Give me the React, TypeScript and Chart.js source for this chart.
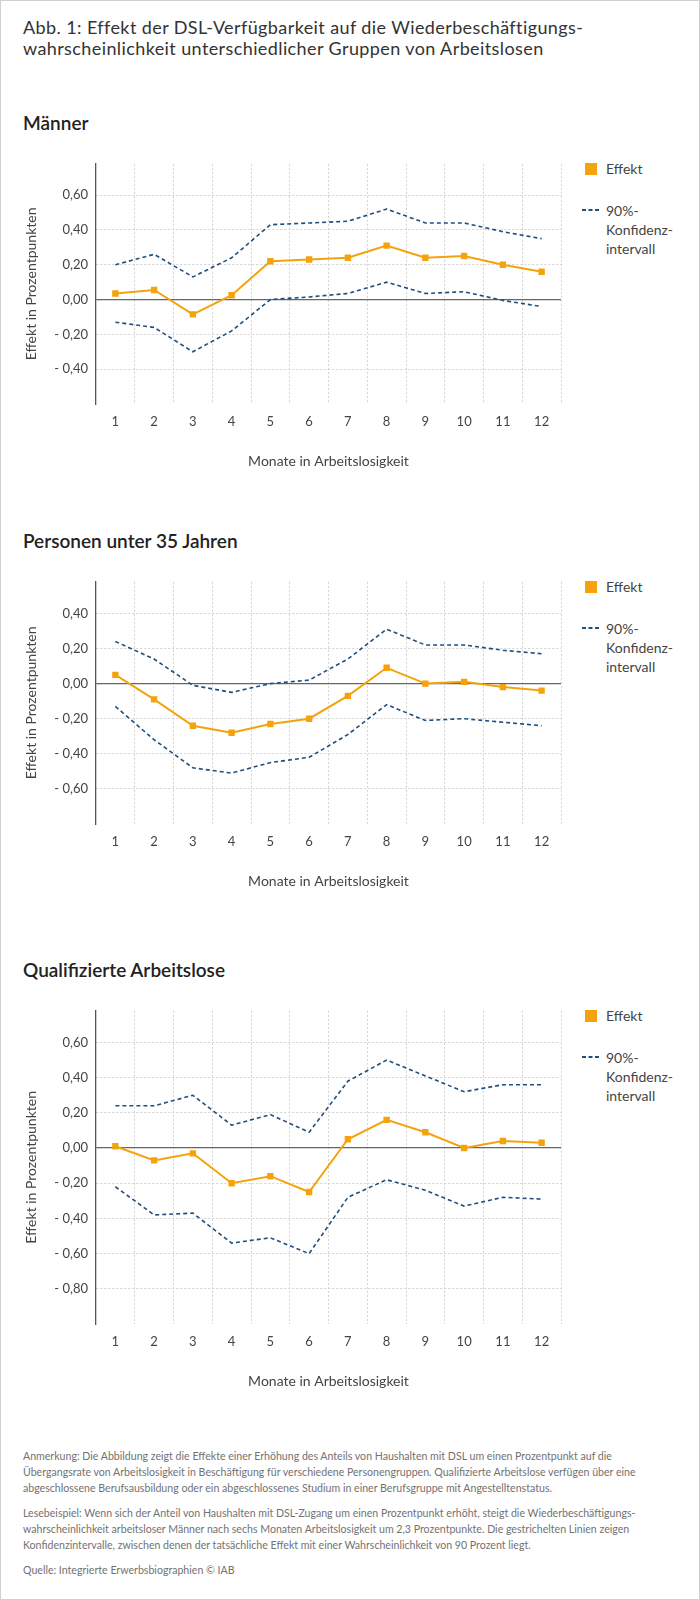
import { useEffect, useRef } from 'react';
import { Chart, registerables } from 'chart.js';

Chart.register(...registerables);

// Monate in Arbeitslosigkeit
const MONTHS = ['1', '2', '3', '4', '5', '6', '7', '8', '9', '10', '11', '12'];

// Männer
const MEN_EFFECT = [0.035, 0.055, -0.085, 0.025, 0.22, 0.23, 0.24, 0.31, 0.24, 0.25, 0.2, 0.16];
const MEN_UPPER = [0.2, 0.26, 0.13, 0.24, 0.43, 0.44, 0.45, 0.52, 0.44, 0.44, 0.39, 0.35];
const MEN_LOWER = [-0.13, -0.16, -0.3, -0.18, 0.0, 0.015, 0.035, 0.1, 0.035, 0.045, -0.005, -0.04];
const MEN_TICKS = [-0.4, -0.2, 0, 0.2, 0.4, 0.6];

// Personen unter 35 Jahren
const YOUNG_EFFECT = [0.05, -0.09, -0.24, -0.28, -0.23, -0.2, -0.07, 0.09, 0.0, 0.01, -0.02, -0.04];
const YOUNG_UPPER = [0.24, 0.14, -0.01, -0.05, 0.0, 0.02, 0.14, 0.31, 0.22, 0.22, 0.19, 0.17];
const YOUNG_LOWER = [-0.13, -0.32, -0.48, -0.51, -0.45, -0.42, -0.29, -0.12, -0.21, -0.2, -0.22, -0.24];
const YOUNG_TICKS = [-0.6, -0.4, -0.2, 0, 0.2, 0.4];

// Qualifizierte Arbeitslose
const QUAL_EFFECT = [0.01, -0.07, -0.03, -0.2, -0.16, -0.25, 0.05, 0.16, 0.09, 0.0, 0.04, 0.03];
const QUAL_UPPER = [0.24, 0.24, 0.3, 0.13, 0.19, 0.09, 0.38, 0.5, 0.41, 0.32, 0.36, 0.36];
const QUAL_LOWER = [-0.22, -0.38, -0.37, -0.54, -0.51, -0.6, -0.28, -0.18, -0.24, -0.33, -0.28, -0.29];
const QUAL_TICKS = [-0.8, -0.6, -0.4, -0.2, 0, 0.2, 0.4, 0.6];

const ORANGE = '#f4a30d';
const BLUE = '#1f4f7e';
const FONT = 'Lato, "Open Sans", sans-serif';
const TEXT = '#444';

const CANVAS_W = 580;
const PLOT_RIGHT = 560;
const AXIS_LEFT = 95;
const PAD_TOP = 15;
const X_AREA = 70;

const fmt = (v: number) => {
  const s = Math.abs(v).toFixed(2).replace('.', ',');
  return v < -0.0001 ? '- ' + s : s;
};

interface PanelProps {
  heading: string;
  plotTop: number;
  plotBottom: number;
  min: number;
  max: number;
  ticks: number[];
  effect: number[];
  upper: number[];
  lower: number[];
}

function Panel({ heading, plotTop, plotBottom, min, max, ticks, effect, upper, lower }: PanelProps) {
  const canvasRef = useRef<HTMLCanvasElement>(null);
  const canvasH = plotBottom - plotTop + PAD_TOP + X_AREA;

  useEffect(() => {
    const ctx = canvasRef.current?.getContext('2d');
    if (!ctx) return;

    const dashed = (label: string, data: number[]) => ({
      label,
      data,
      borderColor: BLUE,
      backgroundColor: BLUE,
      borderWidth: 1.6,
      borderDash: [4, 3],
      pointRadius: 0,
      pointHoverRadius: 0,
      fill: false,
      tension: 0,
    });

    const chart = new Chart(ctx, {
      type: 'line',
      data: {
        labels: MONTHS,
        datasets: [
          {
            label: 'Effekt',
            data: effect,
            borderColor: ORANGE,
            backgroundColor: ORANGE,
            borderWidth: 2,
            pointStyle: 'rect',
            pointRadius: 4.5,
            pointHoverRadius: 4.5,
            pointBorderWidth: 0,
            tension: 0,
          },
          dashed('obere Grenze', upper),
          dashed('untere Grenze', lower),
        ],
      },
      options: {
        responsive: false,
        maintainAspectRatio: false,
        animation: false,
        layout: { padding: { top: PAD_TOP, right: CANVAS_W - PLOT_RIGHT, bottom: 0, left: 0 } },
        plugins: { legend: { display: false }, tooltip: { enabled: false } },
        scales: {
          x: {
            type: 'category',
            offset: true,
            grid: {
              offset: true,
              drawTicks: false,
              color: (c: any) => (c.index === 0 ? 'rgba(0,0,0,0)' : '#d2d2d2'),
              lineWidth: 1,
            },
            border: { display: false, dash: [2, 2] },
            ticks: {
              color: TEXT,
              padding: 10,
              maxRotation: 0,
              autoSkip: false,
              font: { family: FONT, size: 13 },
            },
            title: {
              display: true,
              text: 'Monate in Arbeitslosigkeit',
              color: TEXT,
              font: { family: FONT, size: 14 },
              padding: { top: 0, bottom: 4.6 },
            },
            afterFit: (s: any) => {
              s.height = X_AREA;
            },
          },
          y: {
            min,
            max,
            afterBuildTicks: (s: any) => {
              s.ticks = ticks.map((v) => ({ value: v }));
            },
            grid: {
              drawTicks: false,
              color: (c: any) => (c.tick && c.tick.value === 0 ? '#666' : '#d2d2d2'),
              lineWidth: (c: any) => (c.tick && c.tick.value === 0 ? 1.3 : 1),
            },
            border: {
              display: true,
              color: '#555',
              width: 1.3,
              dash: (c: any) => (c.tick && c.tick.value === 0 ? [] : [2, 2]),
            },
            ticks: {
              color: TEXT,
              padding: 8,
              font: { family: FONT, size: 13 },
              callback: (v: any) => fmt(Number(v)),
            },
            title: {
              display: true,
              text: 'Effekt in Prozentpunkten',
              color: TEXT,
              font: { family: FONT, size: 14 },
              padding: { top: 21.6, bottom: 0 },
            },
            afterFit: (s: any) => {
              s.width = AXIS_LEFT;
            },
          },
        },
      },
    });

    return () => {
      chart.destroy();
    };
  }, [min, max, ticks, effect, upper, lower]);

  const legendTop = plotTop + 6;
  return (
    <>
      <div
        style={{
          position: 'absolute',
          left: 22,
          top: plotTop - 40 - 12,
          fontSize: 19,
          lineHeight: '24px',
          fontWeight: 600,
          color: '#222',
        }}
      >
        {heading}
      </div>
      <canvas
        ref={canvasRef}
        width={CANVAS_W}
        height={canvasH}
        style={{ position: 'absolute', left: 0, top: plotTop - PAD_TOP, width: CANVAS_W, height: canvasH }}
      />
      <div
        style={{
          position: 'absolute',
          left: 584,
          top: legendTop - 6,
          width: 12,
          height: 12,
          background: ORANGE,
        }}
      />
      <div style={{ position: 'absolute', left: 605, top: legendTop - 9, fontSize: 14, lineHeight: '18px', color: TEXT }}>
        Effekt
      </div>
      <svg
        width={18}
        height={4}
        style={{ position: 'absolute', left: 581, top: legendTop + 41 - 2 }}
      >
        <line x1={0} y1={2} x2={18} y2={2} stroke={BLUE} strokeWidth={1.8} strokeDasharray="4 2.5" />
      </svg>
      <div style={{ position: 'absolute', left: 605, top: legendTop + 41 - 9, fontSize: 14, lineHeight: '19px', color: TEXT }}>
        90%-
        <br />
        Konfidenz-
        <br />
        intervall
      </div>
    </>
  );
}

export default function App() {
  return (
    <div
      style={{
        position: 'absolute',
        left: 0,
        top: 0,
        width: 700,
        height: 1600,
        boxSizing: 'border-box',
        border: '1px solid #cfcfcf',
        background: '#fff',
        fontFamily: FONT,
        color: '#333',
        overflow: 'hidden',
      }}
    >
      <div
        style={{
          position: 'absolute',
          left: 22,
          top: 16,
          fontSize: 18,
          lineHeight: '21px',
          letterSpacing: 0.4,
          color: '#333',
        }}
      >
        Abb. 1: Effekt der DSL-Verfügbarkeit auf die Wiederbeschäftigungs-
        <br />
        wahrscheinlichkeit unterschiedlicher Gruppen von Arbeitslosen
      </div>

      <Panel
        heading="Männer"
        plotTop={162}
        plotBottom={403}
        min={-0.6}
        max={0.78}
        ticks={MEN_TICKS}
        effect={MEN_EFFECT}
        upper={MEN_UPPER}
        lower={MEN_LOWER}
      />
      <Panel
        heading="Personen unter 35 Jahren"
        plotTop={580}
        plotBottom={823}
        min={-0.8}
        max={0.58}
        ticks={YOUNG_TICKS}
        effect={YOUNG_EFFECT}
        upper={YOUNG_UPPER}
        lower={YOUNG_LOWER}
      />
      <Panel
        heading="Qualifizierte Arbeitslose"
        plotTop={1009}
        plotBottom={1323}
        min={-1.0}
        max={0.78}
        ticks={QUAL_TICKS}
        effect={QUAL_EFFECT}
        upper={QUAL_UPPER}
        lower={QUAL_LOWER}
      />

      <div
        style={{
          position: 'absolute',
          left: 22,
          top: 1447,
          fontSize: 10.6,
          lineHeight: '16px',
          color: '#727272',
          whiteSpace: 'nowrap',
        }}
      >
        Anmerkung: Die Abbildung zeigt die Effekte einer Erhöhung des Anteils von Haushalten mit DSL um einen Prozentpunkt auf die
        <br />
        Übergangsrate von Arbeitslosigkeit in Beschäftigung für verschiedene Personengruppen. Qualifizierte Arbeitslose verfügen über eine
        <br />
        abgeschlossene Berufsausbildung oder ein abgeschlossenes Studium in einer Berufsgruppe mit Angestelltenstatus.
        <div style={{ height: 9 }} />
        Lesebeispiel: Wenn sich der Anteil von Haushalten mit DSL-Zugang um einen Prozentpunkt erhöht, steigt die Wiederbeschäftigungs-
        <br />
        wahrscheinlichkeit arbeitsloser Männer nach sechs Monaten Arbeitslosigkeit um 2,3 Prozentpunkte. Die gestrichelten Linien zeigen
        <br />
        Konfidenzintervalle, zwischen denen der tatsächliche Effekt mit einer Wahrscheinlichkeit von 90 Prozent liegt.
        <div style={{ height: 9 }} />
        Quelle: Integrierte Erwerbsbiographien © IAB
      </div>
    </div>
  );
}
